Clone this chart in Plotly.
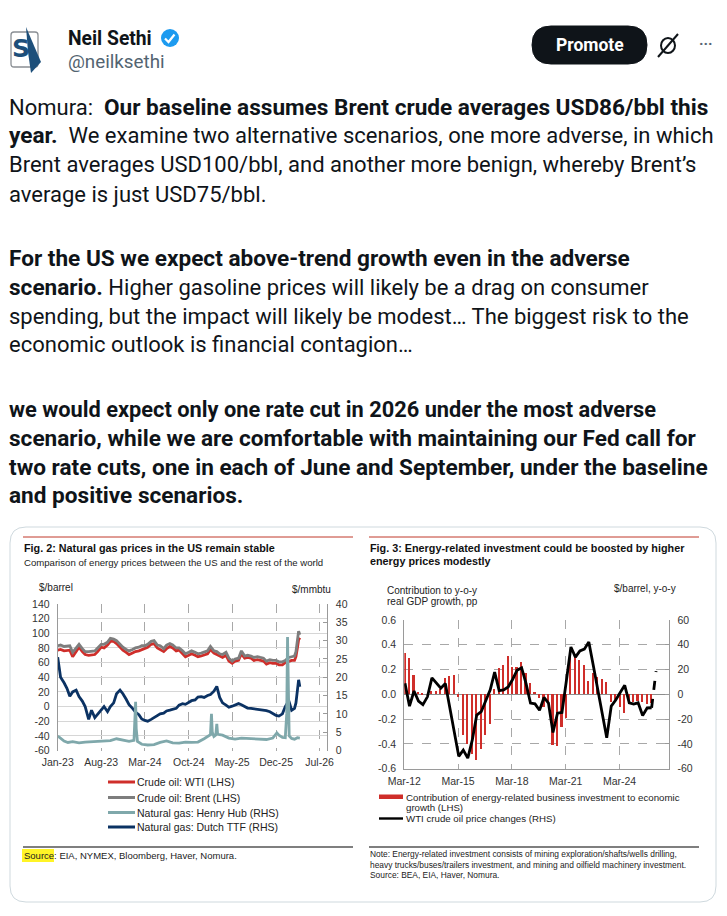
import plotly.graph_objects as go

# the page body has an 8px margin, so the figure is 8px smaller and shifted by it
PAGE_W, PAGE_H, OFF = 727, 916, 8
W, H = PAGE_W - OFF, PAGE_H - OFF


def X(px):
    return (px - OFF) / W


def Y(py):
    return 1 - (py - OFF) / H


# ---------------- Fig. 2 data (semi-monthly readings) ----------------
half_month_dates = [f"{y}-{m:02d}-{d:02d}" for y in (2023, 2024, 2025, 2026)
                    for m in range(1, 13) for d in (1, 15)
                    if (y, m) <= (2026, 2)]
end_dates = ["2026-03-01", "2026-03-08", "2026-03-15", "2026-03-21", "2026-03-27"]
gas_dates = half_month_dates + end_dates

wti = [77, 78, 76, 77, 77, 68, 76, 81, 75, 71, 70, 70, 71, 75, 81, 80, 84, 89, 89, 86, 81, 77, 74, 71,
       73, 75, 76, 78, 79, 81, 85, 86, 80, 78, 75, 79, 82, 80, 76, 77, 72, 68, 70, 72, 70, 68, 69, 70,
       72, 78, 73, 71, 69, 67, 70, 62, 59, 62, 63, 72, 66, 67, 66, 63, 64, 63, 62, 58, 60, 59, 59, 57,
       57, 60, 62, 63, 63, 68, 80, 91, 94]
brent = [83, 84, 82, 83, 83, 74, 80, 85, 79, 75, 75, 75, 76, 80, 85, 85, 88, 93, 92, 90, 85, 81, 78, 76,
         78, 80, 81, 83, 83, 85, 89, 90, 84, 83, 79, 84, 86, 84, 80, 80, 76, 72, 74, 76, 74, 72, 73, 74,
         76, 82, 76, 75, 72, 71, 74, 66, 62, 65, 66, 76, 69, 70, 69, 67, 68, 67, 66, 62, 64, 63, 63, 61,
         61, 63, 67, 68, 69, 75, 88, 103, 98]
ttf = [25.5, 20, 18.5, 17, 14.8, 16, 16.5, 14.7, 13.5, 12, 8.5, 11, 9, 10, 11, 12, 10.6, 12, 13, 15.5, 16.5, 15.5, 14, 12.5,
       11.5, 10.5, 9.8, 8.6, 8.2, 8.0, 8.5, 9.0, 9.5, 10, 10.2, 10.8, 11, 11.2, 11.5, 12.4, 12.8, 12.6, 13.2, 13.6, 13.8, 14.6, 14.7, 14.5,
       15.0, 15.3, 16.2, 17.5, 14.5, 13, 12.4, 11.8, 12.1, 12.4, 12.8, 12.5, 12.0, 11.6, 11.5, 11.4, 11.2, 11.1, 11.0, 10.9, 10.6, 10.1, 9.6, 9.4,
       10.0, 12.0, 13.6, 11.0, 11.5, 13, 17.5, 19.3, 17.4]

hh_dates = ["2023-01-01", "2023-01-10", "2023-02-01", "2023-02-20", "2023-03-15", "2023-04-15", "2023-05-15",
            "2023-06-15", "2023-07-15", "2023-08-15", "2023-09-15", "2023-10-15", "2023-11-15", "2023-12-15",
            "2024-01-08", "2024-01-13", "2024-01-16", "2024-01-19", "2024-01-25", "2024-02-15", "2024-03-15",
            "2024-04-15", "2024-05-15", "2024-06-15", "2024-07-15", "2024-08-15", "2024-09-15", "2024-10-15",
            "2024-11-15", "2024-12-15", "2025-01-05", "2025-01-15", "2025-01-20", "2025-01-24", "2025-02-01",
            "2025-02-10", "2025-02-15", "2025-02-19", "2025-03-01", "2025-03-15", "2025-04-15", "2025-05-15",
            "2025-06-15", "2025-07-15", "2025-08-15", "2025-09-15", "2025-10-15", "2025-11-15", "2025-12-05",
            "2025-12-15", "2026-01-01", "2026-01-15", "2026-01-22", "2026-01-26", "2026-01-30", "2026-02-03",
            "2026-02-15", "2026-03-01", "2026-03-15", "2026-03-27"]
henry_hub = [3.9, 3.6, 2.6, 2.2, 2.4, 2.1, 2.3, 2.4, 2.6, 2.7, 2.7, 3.2, 2.8, 2.5,
             2.8, 8.0, 13.3, 6.0, 2.5, 1.7, 1.5, 1.6, 2.2, 2.6, 2.1, 2.0, 2.3, 2.2,
             2.3, 3.2, 3.8, 4.3, 10.0, 5.0, 3.8, 4.2, 7.3, 4.5, 4.3, 4.2, 3.4, 3.1,
             3.4, 3.3, 3.0, 2.9, 3.0, 3.4, 4.8, 4.2, 3.6, 3.5, 10.0, 31.0, 12.0, 4.0,
             3.3, 3.1, 3.5, 3.4]

# ---------------- Fig. 3 data (quarterly) ----------------
quarters = [f"{2012 + (2 + 3 * k) // 12}-{(2 + 3 * k) % 12 + 1:02d}-15" for k in range(57)]
energy_contrib = [0.33, 0.29, 0.16, 0.02, 0.01, 0.0, 0.03, 0.03, 0.04, 0.13, 0.15, 0.16,
                  -0.02, -0.33, -0.40, -0.48, -0.53, -0.44, -0.33, -0.24, 0.04, 0.21, 0.24, 0.31,
                  0.22, 0.22, 0.26, 0.17, 0.09, 0.02, -0.03, -0.10, -0.06, -0.41, -0.42, -0.26,
                  -0.19, 0.34, 0.30, 0.28, 0.24, 0.11, 0.17, 0.14, 0.12, 0.10, -0.06, -0.06,
                  -0.10, -0.15, -0.07, -0.06, -0.05, -0.06, -0.08, -0.07]
wti_yoy = [9, -9.5, 2.7, -5.4, -8.3, -2, 13.3, 9.5, 5, 8.7, -11, -30, -50, -45, -51.5, -37,
           -16.7, -14, -4.7, 3.6, 18, 3, 3.5, 6, 12, 19.5, 21.5, 8.7, -7, -7.7, -12.8, -2.5,
           -7, -30.8, -15.2, -14.6, 11, 38.2, 30, 35, 36.5, 42.3, 23, 3.7, -15.6, -35, -9.5, -4.6,
           1.5, 7.3, -6.8, -7.8, -6.8, -17, -11, -10.8]
wti_yoy_proj = [-10.8, 18.8]

RED = "#cf2e2a"
GREY = "#7d7d7d"
TEAL = "#7fa8ab"
NAVY = "#0b3263"
INK = "#0f1419"
CHART_FONT = "Liberation Sans"
LW = 2.8

fig = go.Figure()

fig.add_trace(go.Scatter(x=gas_dates, y=wti, mode="lines", line=dict(color=RED, width=LW),
                         xaxis="x", yaxis="y", name="Crude oil: WTI (LHS)"))
fig.add_trace(go.Scatter(x=gas_dates, y=brent, mode="lines", line=dict(color=GREY, width=LW),
                         xaxis="x", yaxis="y", name="Crude oil: Brent (LHS)"))
fig.add_trace(go.Scatter(x=gas_dates, y=ttf, mode="lines", line=dict(color=NAVY, width=LW),
                         xaxis="x", yaxis="y2", name="Natural gas: Dutch TTF (RHS)"))
fig.add_trace(go.Scatter(x=hh_dates, y=henry_hub, mode="lines", line=dict(color=TEAL, width=LW),
                         xaxis="x", yaxis="y2", name="Natural gas: Henry Hub (RHS)"))

fig.add_trace(go.Bar(x=quarters[:-1], y=energy_contrib, marker=dict(color=RED, line=dict(width=0)),
                     width=34 * 86400000, xaxis="x2", yaxis="y3", name="Contribution"))
fig.add_trace(go.Scatter(x=quarters[:-1], y=wti_yoy, mode="lines", line=dict(color="black", width=LW),
                         xaxis="x2", yaxis="y4", name="WTI yoy"))
fig.add_trace(go.Scatter(x=quarters[-2:], y=wti_yoy_proj, mode="lines",
                         line=dict(color="black", width=LW, dash="dash"),
                         xaxis="x2", yaxis="y4", name="WTI yoy proj"))

tick_font = dict(family=CHART_FONT, size=10.5, color="#333")


def hyphen(vals, fmt="{:g}"):
    return [fmt.format(v).replace("\u2212", "-") for v in vals]


left1 = list(range(-60, 141, 20))
right1 = list(range(0, 41, 5))
left3 = [-0.6, -0.4, -0.2, 0.0, 0.2, 0.4, 0.6]
right4 = list(range(-60, 61, 20))

fig.update_layout(
    width=W, height=H, margin=dict(l=0, r=0, t=0, b=0, pad=0), autosize=False,
    paper_bgcolor="white", plot_bgcolor="white", showlegend=False,
    bargap=0,
    xaxis=dict(domain=[X(57.7), X(326.7)], anchor="y", type="date", automargin=False,
               range=["2023-01-01", "2026-08-05"], tick0="2023-01-01", dtick="M7",
               tickformat="%b-%y", showgrid=True, gridcolor="#a8a8a8", griddash="dash",
               gridwidth=0.8, showline=False, ticks="", ticklabelstandoff=4,
               tickfont=tick_font, fixedrange=True),
    yaxis=dict(domain=[Y(750.5), Y(604)], anchor="x", range=[-60, 140], automargin=False,
               tickvals=left1, ticktext=hyphen(left1), showgrid=True, gridcolor="#d6d6d6",
               gridwidth=0.8, zeroline=False, showline=True, linecolor="#9a9a9a", linewidth=1,
               ticks="", ticklabelstandoff=5, tickfont=tick_font),
    yaxis2=dict(overlaying="y", side="right", anchor="x", range=[0, 40], automargin=False,
                tickvals=right1, ticktext=hyphen(right1), showgrid=False, zeroline=False,
                showline=True, linecolor="#9a9a9a", linewidth=1, ticks="inside", ticklen=4,
                tickcolor="#9a9a9a", ticklabelstandoff=6, tickfont=tick_font),
    xaxis2=dict(domain=[X(404.3), X(669.3)], anchor="y3", type="date", automargin=False,
                range=["2012-03-01", "2026-12-10"], tick0="2012-03-01", dtick="M36",
                tickformat="%b-%y", showgrid=True, gridcolor="#a8a8a8", griddash="dash",
                gridwidth=0.8, showline=True, linecolor="#9a9a9a", ticks="",
                ticklabelstandoff=3, tickfont=tick_font),
    yaxis3=dict(domain=[Y(768.7), Y(620)], anchor="x2", range=[-0.6, 0.6], automargin=False,
                tickvals=left3, ticktext=hyphen(left3, "{:.1f}"), showgrid=True,
                gridcolor="#a8a8a8", griddash="dash", gridwidth=0.8, zeroline=True,
                zerolinecolor="#8c8c8c", zerolinewidth=1, showline=True, linecolor="#9a9a9a",
                ticks="", ticklabelstandoff=5, tickfont=tick_font),
    yaxis4=dict(overlaying="y3", side="right", anchor="x2", range=[-60, 60], automargin=False,
                tickvals=right4, ticktext=hyphen(right4), showgrid=False, zeroline=False,
                showline=True, linecolor="#9a9a9a", linewidth=1, ticks="inside", ticklen=4,
                tickcolor="#9a9a9a", ticklabelstandoff=5, tickfont=tick_font),
)

shapes = []
annotations = []


def text(x, y, s, size, color=INK, family=CHART_FONT, anchor="left"):
    annotations.append(dict(x=X(x), y=Y(y), xref="paper", yref="paper", text=s, showarrow=False,
                            xanchor=anchor, yanchor="middle", borderpad=0,
                            font=dict(family=family, size=size, color=color)))


def line(x0, y0, x1, y1, color, width=1, dash=None):
    shapes.append(dict(type="line", xref="paper", yref="paper", x0=X(x0), y0=Y(y0),
                       x1=X(x1), y1=Y(y1), line=dict(color=color, width=width, dash=dash)))


def rounded(x0, y0, x1, y1, r, fill, edge, width=1):
    p = (f"M {X(x0 + r)},{Y(y0)} L {X(x1 - r)},{Y(y0)} Q {X(x1)},{Y(y0)} {X(x1)},{Y(y0 + r)} "
         f"L {X(x1)},{Y(y1 - r)} Q {X(x1)},{Y(y1)} {X(x1 - r)},{Y(y1)} "
         f"L {X(x0 + r)},{Y(y1)} Q {X(x0)},{Y(y1)} {X(x0)},{Y(y1 - r)} "
         f"L {X(x0)},{Y(y0 + r)} Q {X(x0)},{Y(y0)} {X(x0 + r)},{Y(y0)} Z")
    shapes.append(dict(type="path", xref="paper", yref="paper", path=p, fillcolor=fill,
                       line=dict(color=edge, width=width), layer="below"))


# ---------------- tweet header ----------------
rounded(11, 32, 38, 67, 3, "white", "#8a8f94", 1.3)
shapes.append(dict(type="path", xref="paper", yref="paper",
                   path=f"M {X(26)},{Y(27)} L {X(41)},{Y(62)} L {X(31)},{Y(73)} L {X(28)},{Y(52)} Z",
                   fillcolor="#1d4f7a", line=dict(width=0)))
text(21, 49, "<b>S</b>", 25, "#1d4f7a", "DejaVu Sans", "center")
text(67, 38, "<b>Neil Sethi</b>", 19.3, INK, "Roboto")
shapes.append(dict(type="circle", xref="paper", yref="paper", x0=X(161), x1=X(179), y0=Y(47), y1=Y(29),
                   fillcolor="#1d9bf0", line=dict(width=0)))
shapes.append(dict(type="path", xref="paper", yref="paper",
                   path=f"M {X(165)},{Y(38.5)} L {X(168.5)},{Y(42)} L {X(174.5)},{Y(34.5)}",
                   line=dict(color="white", width=2.2)))
text(67, 62, "@neilksethi", 18.8, "#536471", "Roboto")
rounded(532, 26, 647, 64, 19, INK, INK)
text(589.5, 45, "<b>Promote</b>", 17.5, "white", "Roboto", "center")
shapes.append(dict(type="circle", xref="paper", yref="paper", x0=X(661), x1=X(675), y0=Y(53), y1=Y(38),
                   line=dict(color=INK, width=2)))
line(658, 57, 678, 34, INK, 2)
text(706, 44, "<b>···</b>", 15, "#536471", "Roboto", "center")

# ---------------- tweet text ----------------
BOLD = '<b><span style="font-size:22.6px">{}</span></b>'
BOLD_SMALL = '<b><span style="font-size:21.8px">{}</span></b>'
tweet_lines = [
    (107, "Nomura:  " + BOLD.format("Our baseline assumes Brent crude averages USD86/bbl this")),
    (136, BOLD.format("year.") + "  We examine two alternative scenarios, one more adverse, in which"),
    (165, "Brent averages USD100/bbl, and another more benign, whereby Brent’s"),
    (194, "average is just USD75/bbl."),
    (258, BOLD.format("For the US we expect above-trend growth even in the adverse")),
    (287, BOLD.format("scenario.") + " Higher gasoline prices will likely be a drag on consumer"),
    (316, "spending, but the impact will likely be modest… The biggest risk to the"),
    (345, "economic outlook is financial contagion…"),
    (409, BOLD_SMALL.format("we would expect only one rate cut in 2026 under the most adverse")),
    (438, BOLD.format("scenario, while we are comfortable with maintaining our Fed call for")),
    (467, BOLD.format("two rate cuts, one in each of June and September, under the baseline")),
    (496, BOLD.format("and positive scenarios.")),
]
for yy, s in tweet_lines:
    text(8, yy, s, 22, INK, "Roboto")

# ---------------- image card ----------------
rounded(10, 527, 716, 902, 16, "white", "#cfd9de", 1)

# Fig. 2 frame texts
line(23, 537, 353, 537, "#c0392b", 1)
text(23, 548, "<b>Fig. 2: Natural gas prices in the US remain stable</b>", 10.8, "#111")
text(23, 562, "Comparison of energy prices between the US and the rest of the world", 9.6, "#222")
text(38, 587, "$/barrel", 10, "#222")
text(332, 589, "$/mmbtu", 10, "#222", anchor="right")

legend1 = [(782, RED, "Crude oil: WTI (LHS)"), (797.5, GREY, "Crude oil: Brent (LHS)"),
           (812.5, TEAL, "Natural gas: Henry Hub (RHS)"), (827, NAVY, "Natural gas: Dutch TTF (RHS)")]
for yy, c, s in legend1:
    line(108, yy, 135, yy, c, 3)
    text(136, yy, s, 10.5, "#222")

line(23, 847, 353, 847, "#555", 1.3)
shapes.append(dict(type="rect", xref="paper", yref="paper", x0=X(22), x1=X(54), y0=Y(862), y1=Y(849),
                   fillcolor="#fff200", line=dict(width=0), opacity=0.85))
text(23, 855.5, "Source: EIA, NYMEX, Bloomberg, Haver, Nomura.", 9.5, "#222")

# Fig. 3 frame texts
line(369, 537, 699, 537, "#c0392b", 1)
text(369, 548, "<b>Fig. 3: Energy-related investment could be boosted by higher</b>", 10.8, "#111")
text(369, 561, "<b>energy prices modestly</b>", 10.8, "#111")
text(386, 590, "Contribution to y-o-y", 10, "#222")
text(386, 601, "real GDP growth, pp", 10, "#222")
text(677, 588, "$/barrel, y-o-y", 10, "#222", anchor="right")

shapes.append(dict(type="rect", xref="paper", yref="paper", x0=X(379), x1=X(403), y0=Y(799), y1=Y(794.5),
                   fillcolor=RED, line=dict(width=0)))
text(405, 797, "Contribution of energy-related business investment to economic", 9.7, "#222")
text(405, 807.5, "growth (LHS)", 9.7, "#222")
line(379, 818.5, 403, 818.5, "black", 2.4)
text(405, 818.5, "WTI crude oil price changes (RHS)", 9.7, "#222")

line(369, 847, 699, 847, "#555", 1.3)
text(369, 854, "Note: Energy-related investment consists of mining exploration/shafts/wells drilling,", 8.4, "#222")
text(369, 864.5, "heavy trucks/buses/trailers investment, and mining and oilfield machinery investment.", 8.4, "#222")
text(369, 875, "Source: BEA, EIA, Haver, Nomura.", 8.4, "#222")

fig.update_layout(shapes=shapes, annotations=annotations)
fig.write_html("out.html")
